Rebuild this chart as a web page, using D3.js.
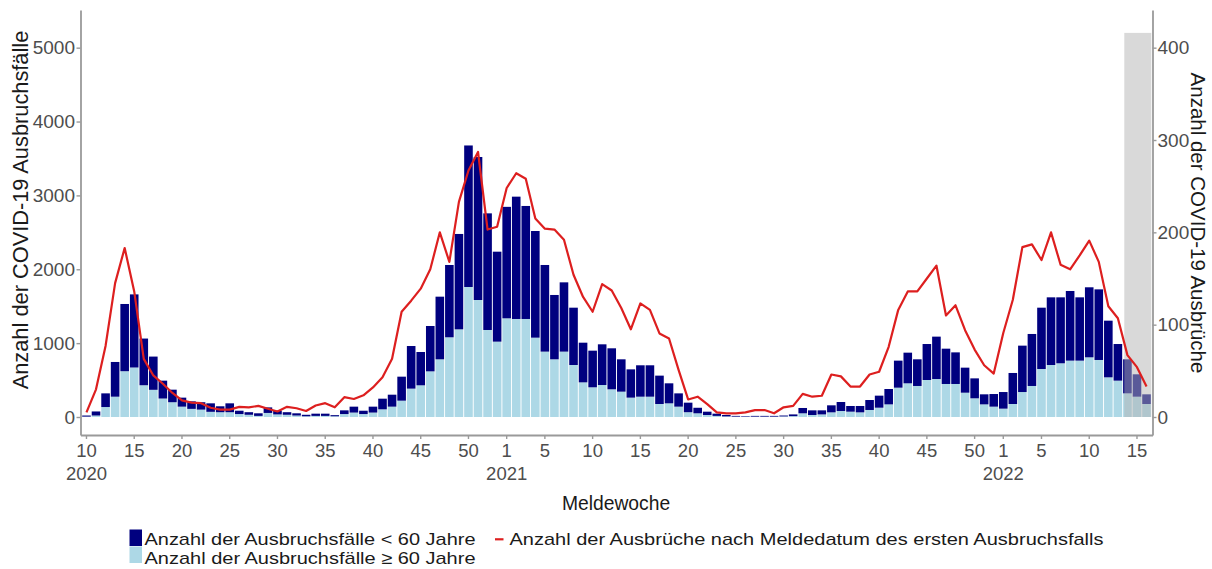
<!DOCTYPE html>
<html>
<head>
<meta charset="utf-8">
<script src="https://cdn.jsdelivr.net/npm/d3@7"></script>
<style>
  html, body { margin: 0; padding: 0; background: #fff; }
  svg { display: block; font-family: "Liberation Sans", Arial, sans-serif; }
</style>
</head>
<body>
<svg id="chart" width="1212" height="569"></svg>
<script>
// Reporting weeks: [year, first week, last week]
const weekSpans = [[2020, 10, 53], [2021, 1, 52], [2022, 1, 16]];

// Outbreak cases aged < 60 years per reporting week
const under60 = [
  15, 55, 185, 470, 910, 990, 632, 450, 242, 170, 122, 102, 100, 115, 80, 120,
  45, 35, 35, 75, 50, 35, 30, 20, 30, 30, 15, 50, 80, 45, 80, 144, 162, 325,
  577, 451, 614, 848, 979, 1291, 1916, 1936, 1579, 1218,
  1509, 1656, 1530, 1444, 1173, 871, 938, 776, 537, 496, 551, 555, 438, 383,
  425, 425, 384, 271, 180, 129, 75, 45, 30, 19, 10, 7, 10, 10, 10, 12, 23, 72,
  63, 55, 95, 122, 77, 86, 135, 163, 208, 366, 415, 361, 487, 574, 478, 428,
  339, 270, 136, 171,
  225, 420, 628, 704, 830, 916, 893, 943, 857, 948, 956, 767, 496, 461, 303, 131
];

// Outbreak cases aged >= 60 years per reporting week
const over60 = [
  5, 20, 135, 275, 620, 670, 430, 368, 250, 200, 140, 110, 100, 70, 65, 65,
  40, 30, 15, 55, 35, 30, 20, 10, 15, 15, 10, 40, 60, 40, 60, 104, 140, 221,
  384, 429, 618, 781, 1079, 1187, 1760, 1584, 1178, 1020,
  1336, 1327, 1327, 1074, 885, 781, 885, 704, 469, 402, 433, 375, 343, 262,
  275, 275, 176, 185, 140, 65, 50, 27, 15, 8, 5, 5, 5, 5, 5, 8, 12, 50,
  27, 35, 63, 81, 72, 63, 95, 126, 171, 397, 456, 420, 501, 514, 447, 447,
  329, 253, 171, 140,
  113, 176, 338, 420, 650, 704, 727, 763, 763, 808, 772, 537, 492, 320, 275, 176
];

// Number of outbreaks by reporting date of the first case
const outbreaks = [
  5, 30, 77, 145, 183, 136, 63, 45, 36, 26, 18, 15.5, 15, 10, 8, 8,
  11, 10.5, 12, 9, 6, 11, 9.5, 6.5, 12.5, 15, 10.5, 21.5, 19.5, 23.5, 32, 43, 63, 114,
  126, 139, 160, 200, 168, 233, 267, 287, 203, 206,
  248, 264, 258, 215, 204, 203, 192, 154, 130, 114, 144, 137, 118, 95,
  123, 116, 90.5, 85, 51, 19, 22, 14, 5, 4, 4, 5, 7.5, 7.5, 4, 10.5, 12, 25,
  22, 23, 46, 44, 33, 33, 46, 49, 76, 116, 136, 136, 150, 164, 110, 121,
  94, 73, 56, 47,
  91, 127, 184, 187, 170, 200, 165, 160, 175, 191, 168, 120, 107, 67, 54, 33
];

// X axis tick labels: [week key, week label, year label]
const xTickLabels = [
  ["2020-10", "10", "2020"], ["2020-15", "15"], ["2020-20", "20"], ["2020-25", "25"],
  ["2020-30", "30"], ["2020-35", "35"], ["2020-40", "40"], ["2020-45", "45"], ["2020-50", "50"],
  ["2021-1", "1", "2021"], ["2021-5", "5"], ["2021-10", "10"], ["2021-15", "15"],
  ["2021-20", "20"], ["2021-25", "25"], ["2021-30", "30"], ["2021-35", "35"],
  ["2021-40", "40"], ["2021-45", "45"], ["2021-50", "50"],
  ["2022-1", "1", "2022"], ["2022-5", "5"], ["2022-10", "10"], ["2022-15", "15"]
];
const leftTicks = [0, 1000, 2000, 3000, 4000, 5000];
const rightTicks = [0, 100, 200, 300, 400];

// Weeks still subject to reporting delay (shaded)
const shadedWeeks = ["2022-14", "2022-16"];
const shadeTop = 5200;

// Legend entries
const legendBars = [
  { label: "Anzahl der Ausbruchsfälle < 60 Jahre", key: "under60" },
  { label: "Anzahl der Ausbruchsfälle \u2265 60 Jahre", key: "over60" }
];
const legendLine = "Anzahl der Ausbrüche nach Meldedatum des ersten Ausbruchsfalls";

const colors = { under60: "#00007f", over60: "#add8e6", line: "#dd1f1f" };

// ---- build rows ----
const weeks = [];
weekSpans.forEach(([yr, a, b]) => { for (let w = a; w <= b; w++) weeks.push(yr + "-" + w); });
const rows = weeks.map((wk, i) => ({ week: wk, under60: under60[i], over60: over60[i], outbreaks: outbreaks[i] }));

const svg = d3.select("#chart");
const panel = { left: 80.5, right: 1152.5, top: 10, bottom: 435 };

const x = d3.scaleBand()
  .domain(weeks)
  .range([panel.left, panel.right])
  .paddingInner(0.1)
  .paddingOuter(0.175);
const bw = x.bandwidth();
const step = x.step();
const cx = wk => x(wk) + bw / 2;

const y = d3.scaleLinear().domain([-243.7, 5510]).range([panel.bottom, panel.top]);
const yR = d3.scaleLinear().domain([-243.7 / 12.5, 5510 / 12.5]).range([panel.bottom, panel.top]);

// ---- stacked bars ----
const stack = d3.stack().keys(["over60", "under60"])(rows);
svg.append("g").selectAll("g")
  .data(stack)
  .join("g")
  .attr("fill", s => colors[s.key])
  .selectAll("rect")
  .data(s => s)
  .join("rect")
  .attr("x", d => x(d.data.week))
  .attr("width", bw)
  .attr("y", d => y(d[1]))
  .attr("height", d => Math.max(0, y(d[0]) - y(d[1])));

// ---- shaded recent weeks ----
svg.append("rect")
  .attr("x", cx(shadedWeeks[0]) - 0.33 * step)
  .attr("width", cx(shadedWeeks[1]) + 0.5 * step - (cx(shadedWeeks[0]) - 0.33 * step))
  .attr("y", y(shadeTop))
  .attr("height", y(0) - y(shadeTop))
  .attr("fill", "#b3b3b3")
  .attr("fill-opacity", 0.5);

// ---- outbreak line ----
svg.append("path")
  .datum(rows)
  .attr("fill", "none")
  .attr("stroke", colors.line)
  .attr("stroke-width", 2.2)
  .attr("stroke-linejoin", "round")
  .attr("d", d3.line().x(d => cx(d.week)).y(d => yR(d.outbreaks)));

// ---- axes ----
const axisColor = "#9a9a9a";
const tickText = "#4d4d4d";
function styleAxis(g) {
  g.select(".domain").attr("stroke", axisColor).attr("stroke-width", 1.8);
  g.selectAll(".tick line").attr("stroke", axisColor).attr("stroke-width", 1.4);
  g.selectAll(".tick text").attr("fill", tickText).attr("font-size", 19)
    .attr("font-family", "\"Liberation Sans\", Arial, sans-serif");
}

svg.append("g")
  .attr("transform", `translate(${panel.left},0)`)
  .call(d3.axisLeft(y).tickValues(leftTicks).tickSize(4).tickSizeOuter(0).tickPadding(1.5).tickFormat(d3.format("d")))
  .call(styleAxis);

svg.append("g")
  .attr("transform", `translate(${panel.right},0)`)
  .call(d3.axisRight(yR).tickValues(rightTicks).tickSize(4).tickSizeOuter(0).tickPadding(1).tickFormat(d3.format("d")))
  .call(styleAxis);

const labelMap = new Map(xTickLabels.map(t => [t[0], t]));
const xAxis = svg.append("g")
  .attr("transform", `translate(0,${panel.bottom})`)
  .call(d3.axisBottom(x).tickValues(xTickLabels.map(t => t[0])).tickSize(4).tickSizeOuter(0).tickFormat(""))
  .call(styleAxis);
xAxis.selectAll(".tick text").remove();
xAxis.selectAll(".tick").each(function (wk) {
  const t = labelMap.get(wk);
  const txt = d3.select(this).append("text")
    .attr("fill", tickText).attr("font-size", 18.5).attr("text-anchor", "middle");
  txt.append("tspan").attr("x", 0).attr("y", 22).text(t[1]);
  if (t[2]) txt.append("tspan").attr("x", 0).attr("y", 45).text(t[2]);
});

// ---- axis titles ----
svg.append("text")
  .attr("x", 616).attr("y", 510)
  .attr("text-anchor", "middle").attr("font-size", 19.3).attr("fill", "#1a1a1a")
  .text("Meldewoche");

svg.append("text")
  .attr("transform", "translate(28,210) rotate(-90)")
  .attr("text-anchor", "middle").attr("font-size", 21.8).attr("fill", "#1a1a1a")
  .text("Anzahl der COVID-19 Ausbruchsfälle");

svg.append("text")
  .attr("transform", "translate(1191,223) rotate(90)")
  .attr("text-anchor", "middle").attr("font-size", 20.5).attr("fill", "#1a1a1a")
  .text("Anzahl der COVID-19 Ausbrüche");

// ---- legend ----
const legend = svg.append("g").attr("font-size", 17).attr("fill", "#1a1a1a");
legendBars.forEach((d, i) => {
  legend.append("rect")
    .attr("x", 129.5).attr("y", 529.5 + i * 17)
    .attr("width", 12.5).attr("height", 16.5)
    .attr("fill", colors[d.key]);
  legend.append("text")
    .attr("x", 144.5).attr("y", 544.5 + i * 19.5)
    .attr("textLength", 331).attr("lengthAdjust", "spacingAndGlyphs")
    .text(d.label);
});
legend.append("line")
  .attr("x1", 495).attr("x2", 503.5).attr("y1", 539.3).attr("y2", 539.3)
  .attr("stroke", colors.line).attr("stroke-width", 2.2);
legend.append("text")
  .attr("x", 509.5).attr("y", 544.5)
  .attr("textLength", 594).attr("lengthAdjust", "spacingAndGlyphs")
  .text(legendLine);
</script>
</body>
</html>
